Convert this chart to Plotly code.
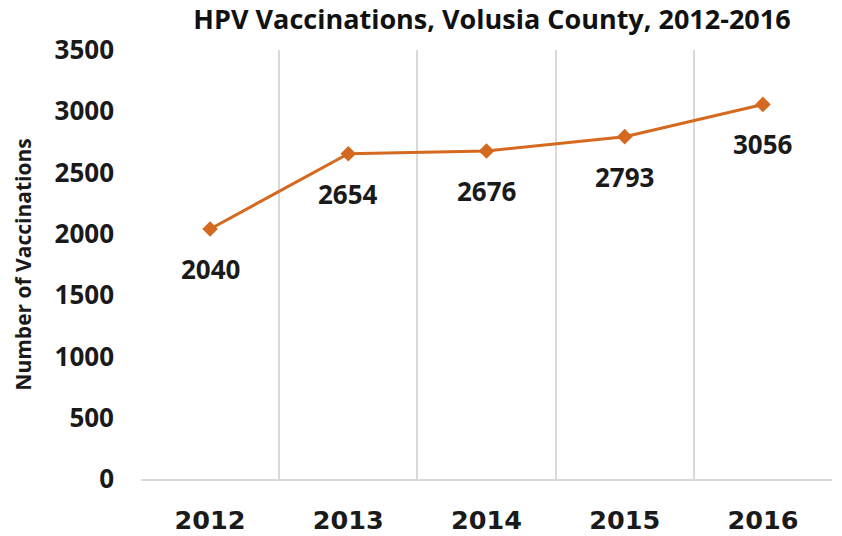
import plotly.graph_objects as go

years = ["2012", "2013", "2014", "2015", "2016"]
vaccinations = [2040, 2654, 2676, 2793, 3056]
y_ticks = [0, 500, 1000, 1500, 2000, 2500, 3000, 3500]

title_text = "HPV Vaccinations, Volusia County, 2012-2016"
y_title = "Number of Vaccinations"

orange = "#d5691f"
grid = "#d9d9d9"
xpos = list(range(len(years)))

fig = go.Figure()
fig.add_trace(go.Scatter(
    x=xpos, y=vaccinations, mode="lines+markers",
    line=dict(color=orange, width=3),
    marker=dict(symbol="diamond", size=12, color=orange),
    hoverinfo="skip", showlegend=False,
))

for xi, v in zip(xpos, vaccinations):
    fig.add_annotation(x=xi, y=v, text=f"{v}", showarrow=False, yshift=-40,
                       font=dict(family="Open Sans", size=26, color="#1a1a1a", weight="bold"))

fig.add_annotation(x=-0.172, y=0.5, xref="paper", yref="paper", text=y_title,
                   textangle=-90, showarrow=False, xanchor="center", yanchor="middle",
                   font=dict(family="Open Sans", size=21, color="#1a1a1a", weight="bold"))

fig.update_layout(
    width=842, height=536,
    paper_bgcolor="white", plot_bgcolor="white",
    margin=dict(l=141, r=10, t=50, b=57, autoexpand=False),
    title=dict(text=title_text, x=492 / 842, xanchor="center", xref="container",
               y=1 - 20 / 536, yanchor="middle", yref="container",
               font=dict(family="Open Sans", size=27, color="#111111", weight="bold")),
    xaxis=dict(
        range=[-0.5, 4.5], tickvals=xpos, ticktext=years, automargin=False,
        showgrid=False, zeroline=False,
        showline=True, linecolor=grid, linewidth=2,
        ticks="", ticklabelstandoff=17,
        tickfont=dict(family="DejaVu Sans", size=25.5, color="#1a1a1a", weight="bold"),
        minor=dict(tickvals=[i - 0.5 for i in range(len(years) + 1)],
                   showgrid=True, gridcolor=grid, gridwidth=1.5, ticks=""),
    ),
    yaxis=dict(
        range=[0, 3500], tickvals=y_ticks, showgrid=False, zeroline=False, automargin=False,
        showline=False, ticks="", ticklabelstandoff=26,
        tickfont=dict(family="Open Sans", size=26, color="#1a1a1a", weight="bold"),
    ),
)

# remove the browser's default 8px body margin so the figure fills the window
fig.write_html("out.html", config={"displayModeBar": False},
               post_script="document.body.style.margin='0';")
